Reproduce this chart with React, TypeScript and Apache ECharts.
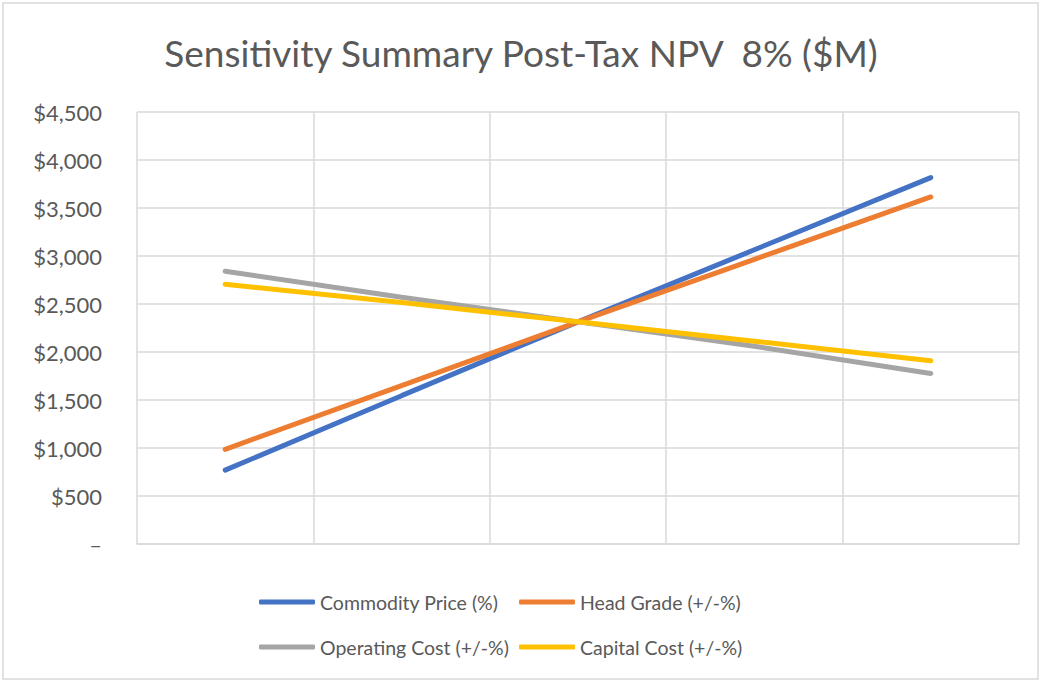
import React, { useEffect, useRef } from "react";
import * as echarts from "echarts";

const categories = ["-20%", "-10%", "0%", "+10%", "+20%"];
const commodityPrice = [770, 1545, 2314, 3065, 3817];
const headGrade = [986, 1650, 2314, 2965, 3615];
const operatingCost = [2842, 2570, 2314, 2060, 1777];
const capitalCost = [2706, 2515, 2314, 2112, 1908];
const seriesNames = [
  "Commodity Price (%)",
  "Head Grade (+/-%)",
  "Operating Cost (+/-%)",
  "Capital Cost (+/-%)",
];
const seriesColors = ["#4472C4", "#ED7D31", "#A5A5A5", "#FFC000"];
const titleText = "Sensitivity Summary Post-Tax NPV  8% ($M)";

const FONT = "Lato, 'Open Sans', sans-serif";

export default function App() {
  const ref = useRef<HTMLDivElement>(null);
  useEffect(() => {
    if (!ref.current) return;
    const chart = echarts.init(ref.current, undefined, { renderer: "svg" });
    const values = [commodityPrice, headGrade, operatingCost, capitalCost];
    const legendPos = [
      { left: 259, top: 591 },
      { left: 519, top: 591 },
      { left: 259, top: 636 },
      { left: 519, top: 636 },
    ];
    chart.setOption({
      animation: false,
      backgroundColor: "#ffffff",
      title: {
        text: titleText,
        left: "center",
        top: 34,
        padding: 0,
        textStyle: {
          fontFamily: FONT,
          fontSize: 37,
          fontWeight: "normal",
          color: "#595959",
        },
      },
      graphic: [
        {
          type: "rect",
          shape: { x: 3, y: 3, width: 1035, height: 676 },
          style: { fill: "none", stroke: "#d9d9d9", lineWidth: 1.5 },
          silent: true,
        },
      ],
      legend: seriesNames.map((n, i) => ({
        data: [n],
        left: legendPos[i].left,
        top: legendPos[i].top,
        padding: 0,
        icon: "roundRect",
        itemWidth: 56,
        itemHeight: 5,
        textStyle: {
          fontFamily: FONT,
          fontSize: 19.5,
          lineHeight: 22,
          color: "#595959",
        },
      })),
      grid: { left: 137, right: 23, top: 112, bottom: 137 },
      xAxis: {
        type: "category",
        data: categories,
        boundaryGap: true,
        axisLabel: { show: false },
        axisTick: { show: false },
        axisLine: { show: true, lineStyle: { color: "#d9d9d9", width: 1.5 } },
        splitLine: { show: true, lineStyle: { color: "#d9d9d9", width: 1.5 } },
      },
      yAxis: {
        type: "value",
        min: 0,
        max: 4500,
        interval: 500,
        axisLine: { show: false },
        axisTick: { show: false },
        splitLine: { show: true, lineStyle: { color: "#d9d9d9", width: 1.5 } },
        axisLabel: {
          margin: 35,
          fontFamily: FONT,
          fontSize: 22,
          color: "#595959",
          formatter: (v: number) =>
            v === 0 ? "–" : "$" + v.toLocaleString("en-US"),
        },
      },
      series: seriesNames.map((n, i) => ({
        name: n,
        type: "line",
        data: values[i],
        symbol: "none",
        color: seriesColors[i],
        lineStyle: { width: 5, color: seriesColors[i], cap: "round" },
      })),
    });
    return () => chart.dispose();
  }, []);
  return (
    <div
      ref={ref}
      style={{ position: "fixed", left: 0, top: 0, width: 1042, height: 681 }}
    />
  );
}
